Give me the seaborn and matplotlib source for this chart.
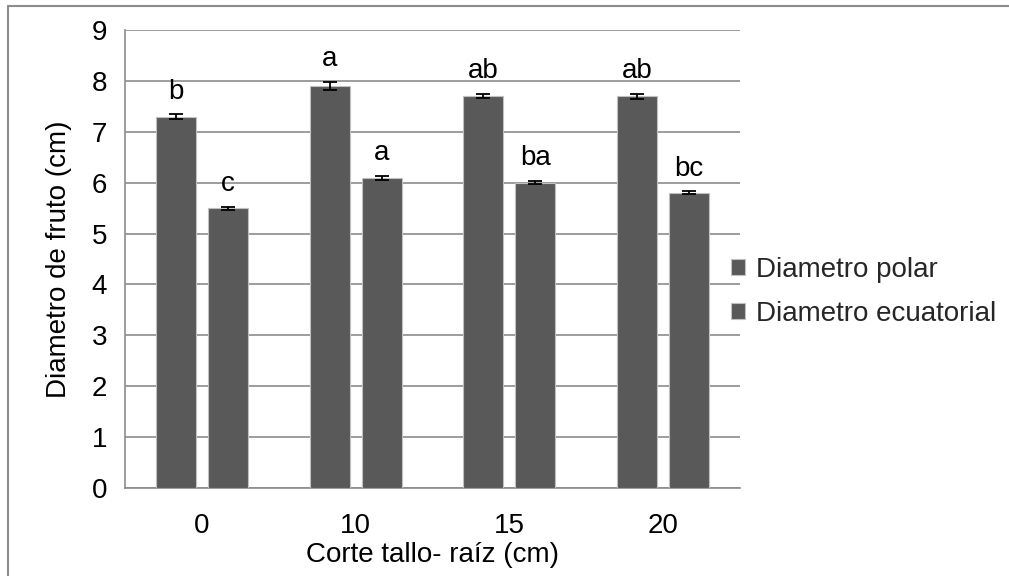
import matplotlib
matplotlib.use("Agg")
import matplotlib.pyplot as plt
from matplotlib.lines import Line2D
import seaborn as sns
import pandas as pd
import numpy as np

categories = ["0", "10", "15", "20"]
series_names = ["Diametro polar", "Diametro ecuatorial"]
polar = [7.3, 7.9, 7.7, 7.7]
ecuatorial = [5.5, 6.1, 6.0, 5.8]
polar_err = [0.04, 0.08, 0.04, 0.05]
ecuatorial_err = [0.03, 0.04, 0.03, 0.03]
polar_letters = ["b", "a", "ab", "ab"]
ecuatorial_letters = ["c", "a", "ba", "bc"]
yticks = [0, 1, 2, 3, 4, 5, 6, 7, 8, 9]

df = pd.DataFrame({
    "cat": categories * 2,
    "serie": [series_names[0]] * 4 + [series_names[1]] * 4,
    "val": polar + ecuatorial,
})

sns.set_theme(style="white")
plt.rcParams['font.family'] = ['Liberation Sans', 'DejaVu Sans']
FS = 20
W, H = 1009, 576

fig = plt.figure(figsize=(W/100, H/100), dpi=100)
ax = fig.add_axes([125/W, 1-488/H, (740-125)/W, 458/H])

bar_color = "#595959"
sns.barplot(data=df, x="cat", y="val", hue="serie", order=categories,
            hue_order=series_names, palette=[bar_color, bar_color],
            width=0.675, gap=0.23, errorbar=None, ax=ax,
            edgecolor="#c0c0c0", linewidth=0.8, zorder=3)

errs = [polar_err, ecuatorial_err]
letters = [polar_letters, ecuatorial_letters]
vals = [polar, ecuatorial]
bar_containers = list(ax.containers)
for k, cont in enumerate(bar_containers):
    for i, p in enumerate(cont.patches):
        xc = p.get_x() + p.get_width() / 2
        ax.errorbar(xc, vals[k][i], yerr=errs[k][i], fmt="none", ecolor="black",
                    elinewidth=1.3, capsize=5, capthick=1.3, zorder=4)
        ax.annotate(letters[k][i], (xc, vals[k][i] + errs[k][i]),
                    xytext=(0, 7), textcoords="offset points",
                    ha="center", va="bottom", fontsize=FS, color="black")

ax.set_ylim(0, 9)
ax.set_xlim(-0.5, 3.5)
ax.set_yticks(yticks)
ax.set_yticklabels([str(t) for t in yticks], fontsize=FS)
ax.yaxis.grid(True, color="#8c8c8c", linewidth=1.2, zorder=0)
ax.set_axisbelow(True)

ax.set_xticks(range(len(categories)))
ax.set_xticklabels(categories, fontsize=FS)
ax.tick_params(axis="x", length=0, pad=18, colors="black")
ax.set_xticks([-0.5, 0.5, 1.5, 2.5, 3.5], minor=True)
ax.tick_params(axis="x", which="minor", length=7, width=1.2, color="#8c8c8c", direction="out")
ax.tick_params(axis="y", length=5, width=1.2, color="#8c8c8c", direction="out", pad=8, labelcolor="black")

for s in ["top", "right"]:
    ax.spines[s].set_visible(False)
for s in ["left", "bottom"]:
    ax.spines[s].set_color("#8c8c8c")
    ax.spines[s].set_linewidth(1.2)

ax.set_xlabel("Corte tallo- raíz (cm)", fontsize=FS, labelpad=2, color="black")
ax.set_ylabel("Diametro de fruto (cm)", fontsize=FS, labelpad=14, color="black")

leg = ax.legend(loc="center left", bbox_to_anchor=(731/W, 1-292/H),
                bbox_transform=fig.transFigure, frameon=False,
                fontsize=FS, handlelength=0.5, handleheight=0.5, handletextpad=0.4,
                labelspacing=0.65, borderaxespad=0, borderpad=0)
for h in leg.legend_handles:
    h.set_edgecolor("#c0c0c0")

fig.add_artist(Line2D([7.5/W, 7.5/W], [0, 1-6/H], transform=fig.transFigure,
                      color="#8c8c8c", linewidth=1.5))
fig.add_artist(Line2D([7.5/W, 1], [1-6/H, 1-6/H], transform=fig.transFigure,
                      color="#8c8c8c", linewidth=1.5))

fig.savefig("out.png", dpi=100)
